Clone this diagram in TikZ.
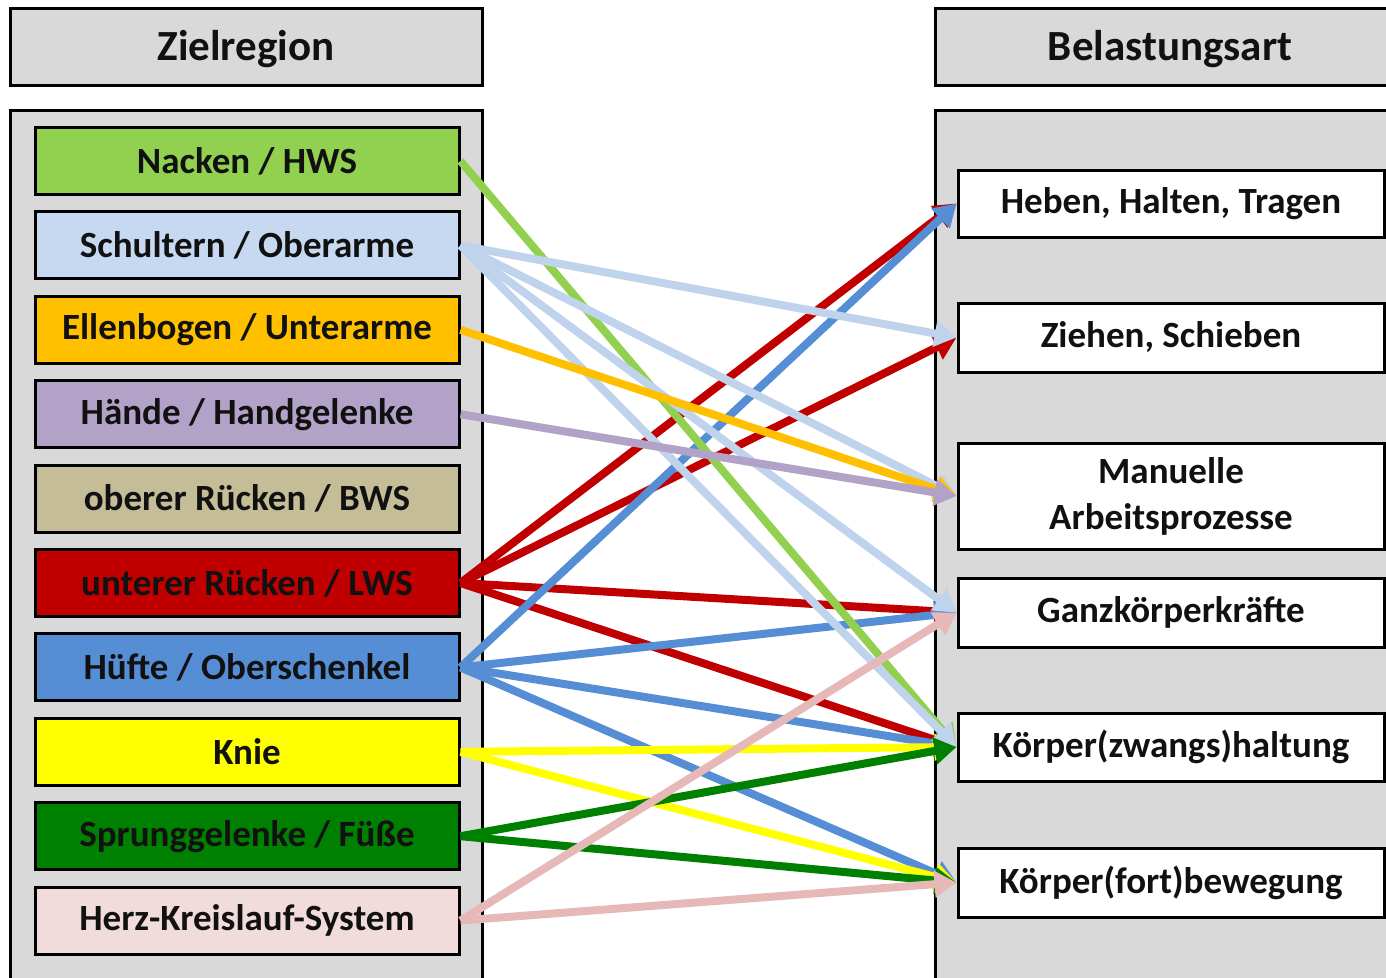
\documentclass[tikz,border=0pt]{standalone}
\usepackage{fontspec}
\setmainfont{Carlito}
\usetikzlibrary{arrows.meta}
\definecolor{panelgray}{HTML}{D9D9D9}
\definecolor{cNacken}{HTML}{92D050}
\definecolor{cSchult}{HTML}{C6D9F1}
\definecolor{cSchultA}{HTML}{C0D3EC}
\definecolor{cEllen}{HTML}{FFC000}
\definecolor{cHaende}{HTML}{B3A2C7}
\definecolor{cOber}{HTML}{C4BD97}
\definecolor{cUnter}{HTML}{C00000}
\definecolor{cHuefte}{HTML}{558ED5}
\definecolor{cKnie}{HTML}{FFFF00}
\definecolor{cSprung}{HTML}{008000}
\definecolor{cHerz}{HTML}{F2DCDB}
\definecolor{cHerzA}{HTML}{E6B9B8}
\definecolor{textdark}{HTML}{111111}
\begin{document}
\begin{tikzpicture}[x=1pt,y=-1pt,
  panel/.style={draw=black, line width=3pt, fill=panelgray},
  headtext/.style={font=\fontsize{43}{48}\selectfont\bfseries, text=textdark},
  lbox/.style={draw=black, line width=3pt, minimum width=424pt, minimum height=67pt, inner sep=0pt,
     font=\fontsize{37}{42}\selectfont\bfseries, text=textdark},
  rbox/.style={draw=black, line width=3pt, fill=white, minimum width=426pt, inner sep=0pt, align=center,
     font=\fontsize{37}{46}\selectfont\bfseries, text=textdark},
  con/.style={line width=8pt, -{Triangle[length=22pt,width=26pt]}}
]
\clip (0,0) rectangle (1386,977);
\fill[white] (0,0) rectangle (1386,977);
% headers
\draw[panel] (10,8) rectangle (482,85);
\node[headtext] (hl) at (246,49) {Zielregion};
\draw[panel] (935,8) rectangle (1400,85);
\node[headtext] (hr) at (1170,49) {Belastungsart};
% panels
\draw[panel] (10,110) rectangle (482,1010);
\draw[panel] (935,110) rectangle (1400,1010);
% left boxes
\node[lbox, fill=cNacken] (n1) at (247,161) {Nacken / HWS};
\node[lbox, fill=cSchult] (n2) at (247,245.4) {Schultern / Oberarme};
\node[lbox, fill=cEllen] (n3) at (247,329.8) {Ellenbogen / Unterarme};
\node[lbox, fill=cHaende] (n4) at (247,414.2) {Hände / Handgelenke};
\node[lbox, fill=cOber] (n5) at (247,498.6) {oberer Rücken / BWS};
\node[lbox, fill=cUnter] (n6) at (247,583) {unterer Rücken / LWS};
\node[lbox, fill=cHuefte] (n7) at (247,667.4) {Hüfte / Oberschenkel};
\node[lbox, fill=cKnie] (n8) at (247,751.8) {Knie};
\node[lbox, fill=cSprung] (n9) at (247,836.2) {Sprunggelenke / Füße};
\node[lbox, fill=cHerz] (n10) at (247,920.6) {Herz-Kreislauf-System};
% right boxes
\node[rbox, minimum height=67pt] (r1) at (1171,203.5) {Heben, Halten, Tragen};
\node[rbox, minimum height=69pt] (r2) at (1171,337.5) {Ziehen, Schieben};
\node[rbox, minimum height=106pt] (r3) at (1171,496) {Manuelle\\Arbeitsprozesse};
\node[rbox, minimum height=69pt] (r4) at (1171,612.5) {Ganzkörperkräfte};
\node[rbox, minimum height=68pt] (r5) at (1171,747) {Körper(zwangs)haltung};
\node[rbox, minimum height=69pt] (r6) at (1171,882.5) {Körper(fort)bewegung};
% connectors
\draw[con, cUnter] (n6.east) -- (r1.west);
\draw[con, cUnter] (n6.east) -- (r2.west);
\draw[con, cUnter] (n6.east) -- (r4.west);
\draw[con, cUnter] (n6.east) -- (r5.west);
\draw[con, cHuefte] (n7.east) -- (r1.west);
\draw[con, cHuefte] (n7.east) -- (r4.west);
\draw[con, cHuefte] (n7.east) -- (r5.west);
\draw[con, cHuefte] (n7.east) -- (r6.west);
\draw[con, cKnie] (n8.east) -- (r5.west);
\draw[con, cKnie] (n8.east) -- (r6.west);
\draw[con, cNacken] (n1.east) -- (r5.west);
\draw[con, cSchultA] (n2.east) -- (r2.west);
\draw[con, cSchultA] (n2.east) -- (r3.west);
\draw[con, cSchultA] (n2.east) -- (r4.west);
\draw[con, cSchultA] (n2.east) -- (r5.west);
\draw[con, cEllen] (n3.east) -- (r3.west);
\draw[con, cHaende] (n4.east) -- (r3.west);
\draw[con, cSprung] (n9.east) -- (r6.west);
\draw[con, cSprung] (n9.east) -- (r5.west);
\draw[con, cHerzA] (n10.east) -- (r6.west);
\draw[con, cHerzA] (n10.east) -- (r4.west);
\end{tikzpicture}
\end{document}
